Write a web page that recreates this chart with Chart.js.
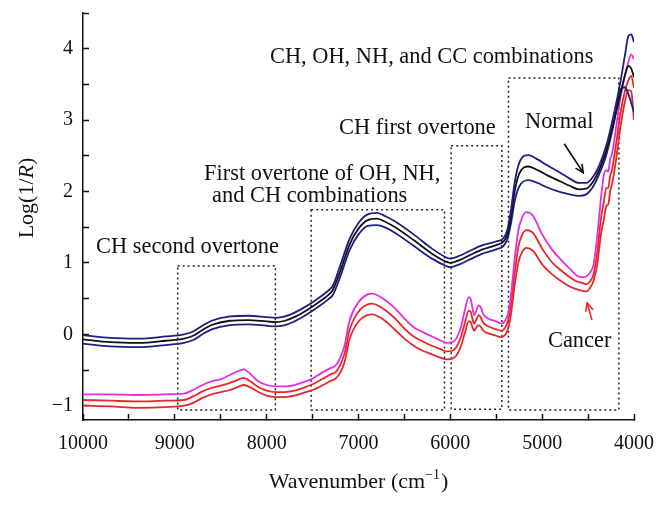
<!DOCTYPE html>
<html><head><meta charset="utf-8">
<script src="https://cdn.jsdelivr.net/npm/chart.js@4.4.1/dist/chart.umd.min.js"></script>
<style>html,body{margin:0;padding:0;background:#fff}#wrap{width:668px;height:505px}</style>
</head><body><div id="wrap"><canvas id="c" width="668" height="505"></canvas></div>
<script>
// ---------- DATA ----------
const wnNormal = [10000,9700,9400,9100,8900,8800,8700,8600,8400,8200,8000,7900,7800,7700,7600,7500,7400,7330,7280,7200,7100,7000,6900,6800,6700,6600,6400,6200,6050,6000,5900,5800,5650,5500,5420,5380,5340,5300,5250,5150,5050,4950,4800,4700,4600,4520,4450,4380,4300,4220,4150,4100,4060,4030,4000];
const normalHigh = [-0.01,-0.05,-0.06,-0.03,0.00,0.04,0.12,0.19,0.25,0.26,0.24,0.23,0.25,0.30,0.37,0.45,0.54,0.61,0.68,0.96,1.33,1.56,1.68,1.70,1.65,1.58,1.40,1.20,1.08,1.06,1.10,1.16,1.25,1.30,1.35,1.46,1.74,2.12,2.40,2.51,2.45,2.37,2.26,2.18,2.12,2.12,2.20,2.36,2.65,3.08,3.52,3.90,4.18,4.20,4.09];
const normalMid = [-0.07,-0.11,-0.12,-0.09,-0.06,-0.02,0.06,0.13,0.19,0.20,0.18,0.17,0.19,0.24,0.31,0.39,0.48,0.55,0.62,0.88,1.25,1.48,1.60,1.62,1.57,1.50,1.32,1.13,1.02,1.00,1.04,1.10,1.19,1.25,1.30,1.40,1.65,2.00,2.25,2.35,2.30,2.23,2.14,2.08,2.03,2.04,2.13,2.30,2.58,2.98,3.35,3.62,3.76,3.72,3.60];
const normalLow = [-0.13,-0.17,-0.18,-0.15,-0.12,-0.08,0.00,0.07,0.13,0.14,0.12,0.11,0.13,0.18,0.25,0.33,0.42,0.49,0.55,0.80,1.17,1.40,1.52,1.53,1.49,1.42,1.24,1.06,0.96,0.94,0.98,1.04,1.13,1.19,1.24,1.33,1.55,1.86,2.07,2.16,2.12,2.06,1.99,1.96,1.94,1.96,2.06,2.24,2.52,2.95,3.42,3.46,3.36,3.24,3.11];

const wnCancer = [10000,9700,9400,9100,8900,8800,8700,8600,8500,8400,8300,8250,8200,8100,8000,7900,7800,7700,7600,7500,7400,7300,7250,7200,7150,7100,7000,6900,6850,6800,6700,6600,6500,6400,6300,6200,6100,6040,5980,5930,5880,5840,5800,5780,5760,5740,5720,5690,5670,5640,5600,5500,5440,5400,5370,5340,5300,5260,5220,5170,5100,5000,4900,4800,4700,4620,4560,4520,4480,4440,4400,4360,4330,4300,4280,4260,4240,4200,4150,4100,4060,4030,4000];
const cancerHigh = [-0.84,-0.84,-0.85,-0.84,-0.83,-0.78,-0.71,-0.66,-0.63,-0.57,-0.51,-0.49,-0.53,-0.65,-0.71,-0.73,-0.73,-0.71,-0.67,-0.62,-0.54,-0.47,-0.44,-0.33,-0.15,0.18,0.45,0.56,0.57,0.55,0.47,0.36,
  0.22,0.10,0.03,-0.03,-0.09,-0.12,-0.11,-0.05,0.12,0.35,0.52,0.50,0.38,0.27,0.32,0.41,0.38,0.28,0.23,0.18,0.15,0.20,0.30,0.55,1.05,1.45,1.63,1.71,1.66,1.40,1.20,1.05,0.92,0.82,0.80,0.81,0.86,0.98,1.38,1.90,2.22,2.30,2.28,2.45,2.52,2.85,3.30,3.62,3.82,3.92,3.85];
const cancerMid = [-0.92,-0.93,-0.94,-0.93,-0.92,-0.87,-0.80,-0.75,-0.72,-0.68,-0.63,-0.61,-0.64,-0.73,-0.79,-0.81,-0.81,-0.79,-0.75,-0.70,-0.63,-0.56,-0.53,-0.43,-0.26,0.05,0.32,0.42,0.43,0.41,0.33,0.22,
  0.08,-0.03,-0.10,-0.16,-0.21,-0.24,-0.23,-0.17,-0.02,0.17,0.33,0.32,0.22,0.15,0.20,0.27,0.24,0.16,0.12,0.07,0.05,0.10,0.20,0.42,0.85,1.22,1.39,1.46,1.42,1.20,1.02,0.90,0.80,0.74,0.72,0.70,0.74,0.84,1.15,1.62,1.85,2.05,2.05,2.22,2.30,2.62,3.08,3.40,3.56,3.62,3.45];
const cancerLow = [-1.00,-1.01,-1.03,-1.02,-1.00,-0.96,-0.89,-0.84,-0.81,-0.78,-0.73,-0.71,-0.73,-0.80,-0.86,-0.88,-0.88,-0.86,-0.82,-0.78,-0.72,-0.65,-0.62,-0.54,-0.38,-0.08,0.18,0.27,0.28,0.26,0.18,0.06,
  -0.06,-0.16,-0.23,-0.28,-0.33,-0.35,-0.34,-0.29,-0.15,0.03,0.18,0.18,0.10,0.05,0.09,0.13,0.11,0.05,0.02,-0.02,-0.04,0.00,0.08,0.28,0.68,1.00,1.15,1.21,1.17,0.98,0.85,0.75,0.67,0.63,0.61,0.60,0.65,0.75,0.98,1.40,1.60,1.80,1.82,2.00,2.10,2.40,2.88,3.25,3.42,3.40,3.00];

const xTickLabels = [10000,9000,8000,7000,6000,5000,4000];
const yTickLabels = [-1,0,1,2,3,4];

// Region boxes (wavenumber range, Log(1/R) range)
const regionBoxes = [
  {w1:8969, w2:7905, v1:0.958, v2:-1.06},
  {w1:7516, w2:6064, v1:1.743, v2:-1.06},
  {w1:5991, w2:5439, v1:2.641, v2:-1.05},
  {w1:5367, w2:4165, v1:3.590, v2:-1.06}
];
const regionTexts = [
  {text:'CH, OH, NH, and CC combinations', w:7964, v:3.805},
  {text:'CH first overtone', w:7212, v:2.81},
  {text:'First overtone of OH, NH,', w:8682, v:2.164},
  {text:'and CH combinations', w:8595, v:1.855},
  {text:'CH second overtone', w:9858, v:1.14},
  {text:'Normal', w:5187, v:2.893},
  {text:'Cancer', w:4937, v:-0.178}
];
const arrows = [
  {w1:4760, v1:2.669, w2:4553, v2:2.262, color:'#111'},
  {w1:4458, v1:0.201, w2:4510, v2:0.439, color:'#e8272a'}
];

// ---------- CHART ----------
const FONT = "'Liberation Serif', 'Times New Roman', serif";
const toPts = (xs, ys) => xs.map((w, i) => ({x: w, y: ys[i]}));
const BLUE = '#1f1d80', BLACK = '#111111', MAGENTA = '#e42ee4', RED = '#e8272a';
const mk = (label, xs, ys, color) => ({
  label, data: toPts(xs, ys), borderColor: color, borderWidth: 1.8,
  pointRadius: 0, fill: false, cubicInterpolationMode: 'monotone'
});

const annotPlugin = {
  id: 'annot',
  beforeDatasetsDraw(chart) {
    const {ctx, scales: {x, y}} = chart;
    ctx.save();
    ctx.setLineDash([2, 3]);
    ctx.lineWidth = 1.5;
    ctx.strokeStyle = '#222';
    regionBoxes.forEach(b => {
      const x1 = x.getPixelForValue(b.w1), x2 = x.getPixelForValue(b.w2);
      const y1 = y.getPixelForValue(b.v1), y2 = y.getPixelForValue(b.v2);
      ctx.strokeRect(Math.min(x1,x2), Math.min(y1,y2), Math.abs(x2-x1), Math.abs(y2-y1));
    });
    ctx.restore();
  },
  afterDraw(chart) {
    const {ctx, scales: {x, y}} = chart;
    ctx.save();
    ctx.fillStyle = '#111';
    ctx.font = `22.4px ${FONT}`;
    ctx.textAlign = 'left';
    ctx.textBaseline = 'alphabetic';
    regionTexts.forEach(t => ctx.fillText(t.text, x.getPixelForValue(t.w), y.getPixelForValue(t.v)));
    // arrows
    arrows.forEach(a => {
      const x1 = x.getPixelForValue(a.w1), y1 = y.getPixelForValue(a.v1);
      const x2 = x.getPixelForValue(a.w2), y2 = y.getPixelForValue(a.v2);
      ctx.strokeStyle = a.color; ctx.lineWidth = 1.6;
      ctx.beginPath(); ctx.moveTo(x1, y1); ctx.lineTo(x2, y2); ctx.stroke();
      const ang = Math.atan2(y2 - y1, x2 - x1), L = 9;
      ctx.beginPath();
      ctx.moveTo(x2 - L*Math.cos(ang - 0.45), y2 - L*Math.sin(ang - 0.45));
      ctx.lineTo(x2, y2);
      ctx.lineTo(x2 - L*Math.cos(ang + 0.45), y2 - L*Math.sin(ang + 0.45));
      ctx.stroke();
    });
    // y axis title: Log(1/R)
    ctx.fillStyle = '#111';
    ctx.save();
    ctx.translate(27, 198);
    ctx.rotate(-Math.PI / 2);
    const parts = [['Log(1/', `22px ${FONT}`], ['R', `italic 22px ${FONT}`], [')', `22px ${FONT}`]];
    let tw = 0;
    parts.forEach(p => { ctx.font = p[1]; tw += ctx.measureText(p[0]).width; });
    let cx = -tw / 2;
    ctx.textBaseline = 'middle';
    parts.forEach(p => { ctx.font = p[1]; ctx.fillText(p[0], cx, 0); cx += ctx.measureText(p[0]).width; });
    ctx.restore();
    // x axis title: Wavenumber (cm^-1)
    const mainF = `22px ${FONT}`, supF = `14px ${FONT}`;
    ctx.font = mainF; const w1 = ctx.measureText('Wavenumber (cm').width;
    ctx.font = supF; const w2 = ctx.measureText('\u22121').width + 1;
    ctx.font = mainF; const w3 = ctx.measureText(')').width;
    const total = w1 + w2 + w3;
    const cxm = (chart.chartArea.left + chart.chartArea.right) / 2;
    let sx = cxm - total / 2, by = 488;
    ctx.textBaseline = 'alphabetic';
    ctx.font = mainF; ctx.fillText('Wavenumber (cm', sx, by); sx += w1;
    ctx.font = supF; ctx.fillText('\u22121', sx, by - 9); sx += w2;
    ctx.font = mainF; ctx.fillText(')', sx, by);
    ctx.restore();
  }
};

new Chart(document.getElementById('c'), {
  type: 'line',
  data: {
    datasets: [
      mk('Normal high', wnNormal, normalHigh, BLUE),
      mk('Normal mean', wnNormal, normalMid, BLACK),
      mk('Normal low', wnNormal, normalLow, BLUE),
      mk('Cancer high', wnCancer, cancerHigh, MAGENTA),
      mk('Cancer mean', wnCancer, cancerMid, RED),
      mk('Cancer low', wnCancer, cancerLow, RED)
    ]
  },
  options: {
    responsive: false,
    devicePixelRatio: 1,
    animation: false,
    layout: {padding: {left: 0, right: 34, top: 13, bottom: 0}},
    plugins: {legend: {display: false}, tooltip: {enabled: false}},
    scales: {
      x: {
        type: 'linear', reverse: true, min: 4000, max: 10000, position: 'bottom',
        ticks: {
          stepSize: 500, autoSkip: false, maxRotation: 0, padding: 18, color: '#111',
          font: {family: FONT, size: 20},
          callback: v => xTickLabels.includes(v) ? String(v) : ''
        },
        grid: {drawOnChartArea: false, drawTicks: true, tickLength: -6, tickColor: '#111', tickWidth: 1.5},
        border: {display: true, color: '#111', width: 1.5},
        afterFit(s) { s.height = 85; s.paddingLeft = 0; s.paddingRight = 0; }
      },
      y: {
        min: -1.2, max: 4.5,
        ticks: {
          stepSize: 0.5, includeBounds: false, padding: 16, color: '#111',
          font: {family: FONT, size: 20},
          callback: v => yTickLabels.includes(v) ? (v < 0 ? '\u2212' + Math.abs(v) : String(v)) : ''
        },
        grid: {drawOnChartArea: false, drawTicks: true, tickLength: -6, tickColor: '#111', tickWidth: 1.5},
        border: {display: true, color: '#111', width: 1.5},
        afterFit(s) { s.width = 83; s.paddingTop = 0; s.paddingBottom = 0; }
      }
    }
  },
  plugins: [annotPlugin]
});
</script>
</body></html>
